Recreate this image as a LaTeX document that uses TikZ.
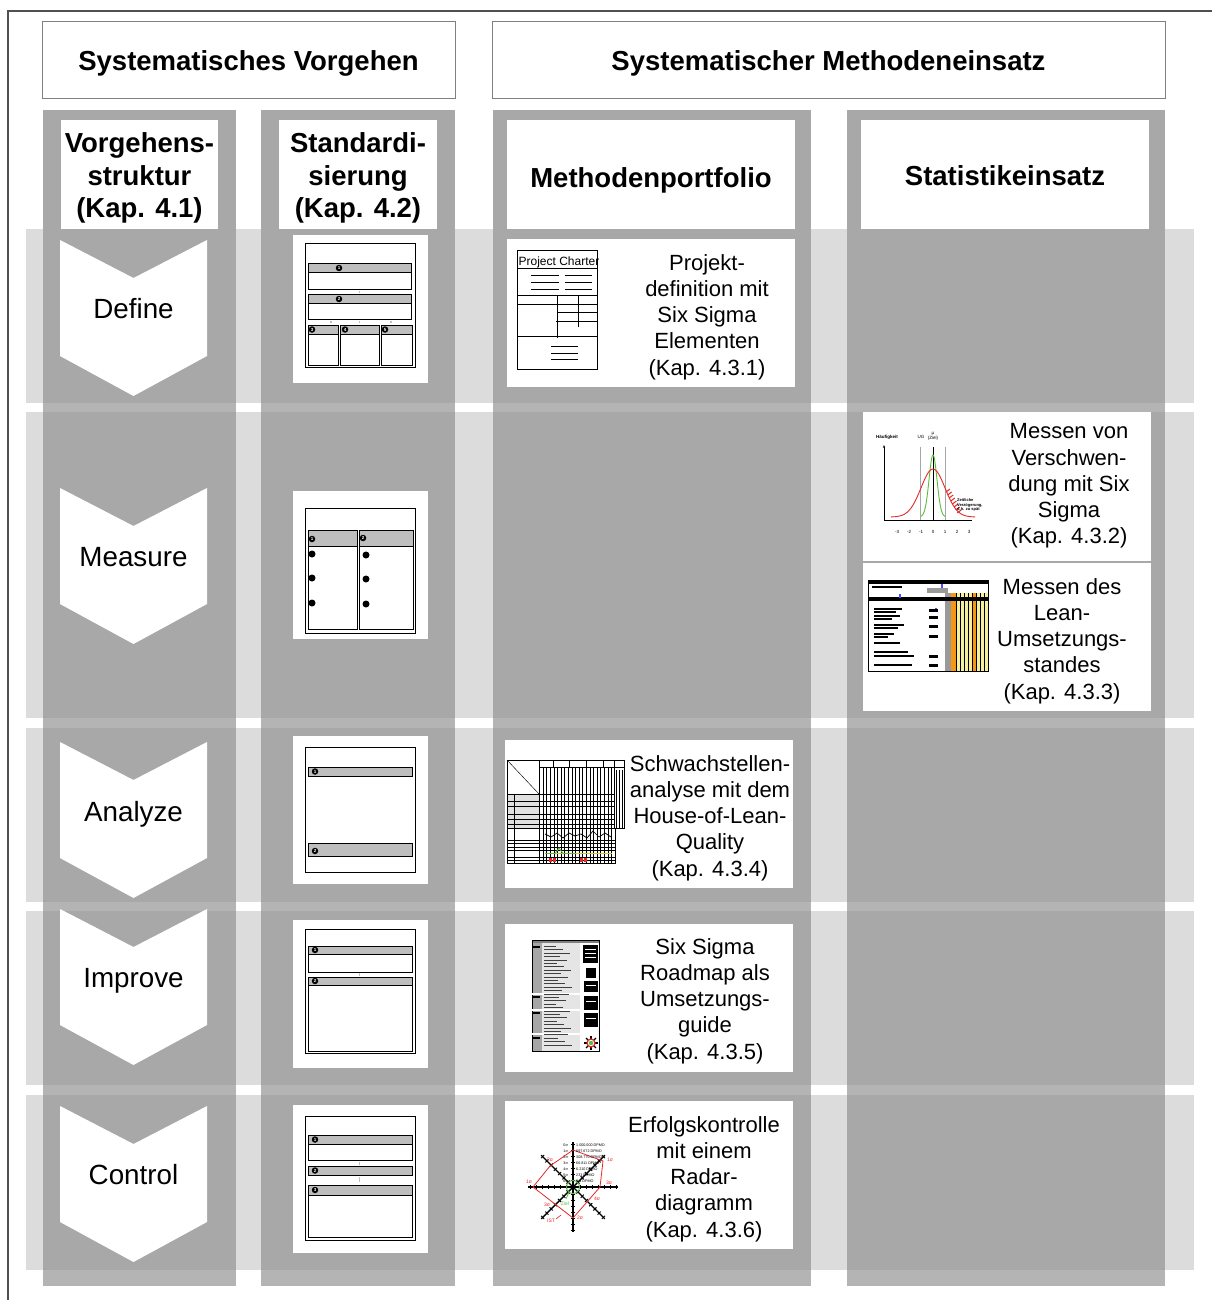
\documentclass[tikz,border=0pt]{standalone}
\usepackage{fontspec}
\setmainfont{Liberation Sans}
\usetikzlibrary{arrows.meta}

\definecolor{rowgray}{RGB}{220,220,220}
\definecolor{colgray}{RGB}{146,146,146}
\definecolor{framegray}{RGB}{80,80,80}
\definecolor{boxline}{RGB}{128,128,128}
\definecolor{bargray}{RGB}{190,190,190}
\definecolor{curvered}{RGB}{230,40,40}
\definecolor{curvegreen}{RGB}{90,190,60}
\definecolor{leanorange}{RGB}{245,150,20}
\definecolor{leanyellow}{RGB}{245,240,160}

\tikzset{
  headtext/.style={font=\fontsize{27.5}{32.5}\selectfont\bfseries, align=center, inner sep=0pt},
  phasetext/.style={font=\fontsize{27.8}{32}\selectfont, inner sep=0pt},
  bodytext/.style={font=\fontsize{22}{26.2}\selectfont, align=center, inner sep=0pt},
  column/.style={fill=colgray, fill opacity=0.69},
  sheet/.style={draw=black, line width=0.9, fill=white},
  bar/.style={draw=black, line width=0.8, fill=bargray},
  num/.style={circle, fill=black, inner sep=0pt, minimum size=6.5pt, text=white,
              font=\fontsize{4.5}{5}\selectfont\bfseries},
  link/.style={fill=black!25},
  tiny/.style={font=\fontsize{4.5}{5}\selectfont, inner sep=0pt},
  dpmo/.style={font=\fontsize{3.7}{4}\selectfont, inner sep=0pt},
}

\begin{document}
\begin{tikzpicture}[x=1pt,y=-1pt]
\useasboundingbox (0,0) rectangle (1212,1300);

% outer frame (top and left edge)
\draw[framegray, line width=1.2] (1212,11) -- (8,11) -- (8,1300);

% headline boxes
\draw[boxline, line width=1, fill=white] (42,22) rectangle (455,99);
\node[headtext] (hVorgehen) at (248.5,63.5) {Systematisches Vorgehen};
\draw[boxline, line width=1, fill=white] (492,22) rectangle (1165,99);
\node[headtext] (hMethoden) at (828.5,63.5) {Systematischer Methodeneinsatz};

% phase rows
\foreach \a/\b in {229/403, 412/718, 728/902, 911/1085, 1095/1270}
  \fill[rowgray] (26,\a) rectangle (1194,\b);

% columns (the heading part sits on the same light ground as the rows)
\foreach \a/\b in {43/236, 261/455, 493/811, 847/1165} {
  \fill[rowgray] (\a,110) rectangle (\b,229);
  \fill[column] (\a,110) rectangle (\b,1286);
}

% column headings
\fill[white] (61,120) rectangle (218,229);
\fill[white] (279,120) rectangle (437,229);
\fill[white] (507,120) rectangle (795,229);
\fill[white] (861,120) rectangle (1149,229);
\node[headtext] (cStruktur) at (139.5,178) {Vorgehens-\\struktur\\(Kap. 4.1)};
\node[headtext] (cStandard) at (358,178) {Standardi-\\sierung\\(Kap. 4.2)};
\node[headtext] (cPortfolio) at (651,180) {Methodenportfolio};
\node[headtext] (cStatistik) at (1005,176) {Statistikeinsatz};

% DMAIC chevrons
\foreach \t/\l/\n/\d in {240/Define/pDefine/69, 488/Measure/pMeasure/69, 742/Analyze/pAnalyze/72,
                      909/Improve/pImprove/72, 1106/Control/pControl/69} {
  \fill[white] (60,\t) -- (133.5,\t+38) -- (207,\t) -- (207,\t+116)
               -- (133.5,\t+156) -- (60,\t+116) -- cycle;
  \node[phasetext] (\n) at (133.5,\t+\d) {\l};
}

% standardisation sheets (white cards)
\foreach \t in {235,491,736,920,1105}
  \fill[white] (293,\t) rectangle (428,\t+148);

% --- Define template
\draw[sheet] (305,243) rectangle (415,367);
\draw[bar] (308,263) rectangle (411,272); \draw[sheet] (308,272) rectangle (411,289);
\draw[bar] (308,294) rectangle (411,303); \draw[sheet] (308,303) rectangle (411,319);
\draw[sheet] (308,325) rectangle (338,365); \draw[bar] (308,325) rectangle (338,334);
\draw[sheet] (340,325) rectangle (379,365); \draw[bar] (340,325) rectangle (379,334);
\draw[sheet] (381,325) rectangle (412,365); \draw[bar] (381,325) rectangle (412,334);
\node[num] (dn1) at (339,268) {1};
\node[num] (dn2) at (339,299) {2};
\node[num] (dn3) at (312,329.5) {3};
\node[num] (dn4) at (345,329.5) {4};
\node[num] (dn5) at (385,329.5) {5};
\fill[link] (358.5,290.5) rectangle (360,293);
\fill[link] (330,320.5) rectangle (331.5,323);
\fill[link] (358.5,320.5) rectangle (360,323);
\fill[link] (390,320.5) rectangle (391.5,323);

% --- Measure template
\draw[sheet] (305,508) rectangle (415,633);
\draw[sheet] (308,530) rectangle (357,629); \draw[bar] (308,530) rectangle (357,546);
\draw[sheet] (359,530) rectangle (413,629); \draw[bar] (359,530) rectangle (413,546);
\node[num] (mn1) at (312,539) {1};
\node[num] (mn2) at (363,538) {2};
\foreach \y/\k in {554/1, 578/2, 603/3} {
  \node[num, minimum size=7pt] (mnA\k) at (312,\y) {};
  \node[num, minimum size=7pt] (mnB\k) at (366,\y+1) {};
}

% --- Analyze template
\draw[sheet] (305,747) rectangle (415,872);
\draw[bar] (308,767) rectangle (412,776);
\draw[bar] (308,843) rectangle (412,856);
\node[num] (an1) at (315,771.5) {1};
\node[num] (an2) at (315,851) {2};

% --- Improve template
\draw[sheet] (305,929) rectangle (415,1053);
\draw[sheet] (308,946) rectangle (412,972); \draw[bar] (308,946) rectangle (412,954);
\draw[sheet] (308,977) rectangle (412,1051); \draw[bar] (308,977) rectangle (412,985);
\node[num] (in1) at (315,950) {1};
\node[num] (in2) at (315,981) {2};
\fill[link] (358.5,973) rectangle (360,976);

% --- Control template
\draw[sheet] (305,1116) rectangle (415,1240);
\draw[sheet] (308,1135) rectangle (412,1160); \draw[bar] (308,1135) rectangle (412,1144);
\draw[bar] (308,1166) rectangle (412,1175);
\draw[sheet] (308,1185) rectangle (412,1237); \draw[bar] (308,1185) rectangle (412,1195);
\node[num] (cn1) at (315,1139.5) {1};
\node[num] (cn2) at (315,1170.5) {2};
\node[num] (cn3) at (315,1190) {3};
\fill[link] (358.5,1161.5) rectangle (360,1164.5);
\fill[link] (358.5,1177) rectangle (360,1182);

% method cards
\fill[white] (507,239) rectangle (795,387);
\fill[white] (505,740) rectangle (793,888);
\fill[white] (505,924) rectangle (793,1072);
\fill[white] (505,1101) rectangle (793,1249);
\fill[white] (863,412) rectangle (1151,561);
\fill[white] (863,563) rectangle (1151,711);

\node[bodytext] (tCharter) at (707,317) {Projekt-\\definition mit\\Six Sigma\\Elementen\\(Kap. 4.3.1)};
\node[bodytext] (tHolq) at (710,818) {Schwachstellen-\\analyse mit dem\\House-of-Lean-\\Quality\\(Kap. 4.3.4)};
\node[bodytext] (tRoadmap) at (705,1001) {Six Sigma\\Roadmap als\\Umsetzungs-\\guide\\(Kap. 4.3.5)};
\node[bodytext] (tRadar) at (704,1179) {Erfolgskontrolle\\mit einem\\Radar-\\diagramm\\(Kap. 4.3.6)};
\node[bodytext] (tSixSigma) at (1069,486) {Messen von\\Verschwen-\\dung mit Six\\Sigma\\(Kap. 4.3.2)};
\node[bodytext] (tLean) at (1062,641) {Messen des\\Lean-\\Umsetzungs-\\standes\\(Kap. 4.3.3)};

% --- project charter sketch
\begin{scope}[line width=0.8]
\draw (517,250) rectangle (597,369);
\node[font=\fontsize{12}{12}\selectfont, inner sep=0pt, anchor=base] (charterTitle) at (559,265) {Project Charter};
\draw (517,268) -- (597,268);
\foreach \y in {275,282,289} { \draw (531,\y) -- (559,\y); \draw (565,\y) -- (592,\y); }
\draw (517,295) -- (597,295);
\draw (517,304) -- (597,304);
\draw (557,295) -- (557,338);
\draw (578,295) -- (578,327);
\draw (557,312) -- (597,312);
\draw (556,321) -- (597,321);
\draw (517,336) -- (597,336);
\foreach \y in {346,353,359} \draw (551,\y) -- (578,\y);
\end{scope}

% --- normal distribution sketch
\begin{scope}
\draw[-{Stealth[length=3pt]}, line width=0.6] (884,520) -- (884,445);
\draw[line width=0.6] (884,520) -- (972,520);
\draw[black!35, line width=0.7] (920,447) -- (920,520);
\draw[black!35, line width=0.7] (945,447) -- (945,520);
\draw[line width=0.8] (933,447) -- (933,520);
\draw[curvegreen, line width=0.9, domain=-1:1, samples=40]
  plot ({933+12*\x}, {517-62*exp(-\x*\x/(2*0.11))});
\draw[curvered, line width=0.9, domain=-3.5:3.5, samples=70]
  plot ({933+12*\x}, {517-48*exp(-\x*\x/2)});
\foreach \x in {0,...,7}
  \draw[curvered, line width=1] ({946+1.6*\x},{492+3*\x}) -- ++(4,-3);
\foreach \v [count=\i from 0] in {-3,-2,-1,0,1,2,3}
  \node[tiny] (ax\i) at ({897+12*\i},532) {\v};
\node[tiny, font=\fontsize{4.5}{5}\selectfont\bfseries] (hf) at (887,437) {Häufigkeit};
\node[tiny] (ug) at (921,437) {UG};
\node[tiny, align=center] (mu) at (933,436) {µ\\(Ziel)};
\node[tiny, align=left, anchor=west, font=\fontsize{4}{4.8}\selectfont\bfseries] (late) at (957,505)
  {Zeitliche\\Verzögerung,\\d.h. zu spät};
\end{scope}

% --- lean implementation table
\begin{scope}
\fill[leanyellow] (956,593) rectangle (988,671);
\fill[leanorange] (951,593) rectangle (956,671);
\fill[leanorange] (972,593) rectangle (976,671);
\fill[black!40] (945,593) rectangle (951,671);
\foreach \x in {956,960,964,968,972,976,980,984}
  \draw[line width=0.4] (\x,593) -- (\x,671);
\fill[black!40] (927,588) rectangle (948,593);
\draw[line width=1] (868,580) rectangle (988,671);
\fill (868,580) rectangle (988,583.5);
\fill (872,586) rectangle (902,588);
\fill (868,597) rectangle (988,601);
\fill[blue!70] (941,584) rectangle (943,588);
\fill[blue!70] (899,594) rectangle (901,598);
\fill[blue!70] (935,608) rectangle (937,612);
\foreach \y/\w in {608/28, 611/22, 615/26, 618/18, 624/30, 627/24, 633/20, 636/14, 642/26, 651/34, 655/40, 664/38} {
  \fill (874,\y) rectangle (874+\w,\y+1.8);
}
\foreach \y in {609,616,625,635,655,664}
  \fill (929,\y) rectangle (938,\y+2.5);
\end{scope}

% --- house of lean quality sketch
\begin{scope}[line width=0.45]
\fill[black!12] (507,794) rectangle (539,828);
\draw[line width=0.8] (507,760) rectangle (614,828);
\draw[line width=0.8] (507,828) rectangle (615,863);
\draw (507,760) -- (539,794);
\draw (539,760) -- (539,863);
\draw (507,794) -- (614,794);
\draw (514,794) -- (514,863);
\draw (539,767) -- (624,767);
\foreach \x in {553,569,586,603} \draw[line width=0.8] (\x,760) -- (\x,767);
\foreach \i in {0,...,19} \draw ({543+3.6*\i},767) -- ({543+3.6*\i},863);
\foreach \y in {801,806,814,819,824} \draw (507,\y) -- (614,\y);
\draw[line width=0.8] (614,760) rectangle (624,828);
\foreach \x in {616.5,619.5,622.5} \draw[line width=1.2] (\x,770) -- (\x,828);
\foreach \y in {840,843,847,850,857,860} \draw (507,\y) -- (615,\y);
\draw[line width=0.7] (545,834) -- (551,837) -- (557,833) -- (563,838) -- (569,833)
  -- (575,836) -- (581,834) -- (587,838) -- (593,831) -- (599,837) -- (605,833) -- (611,837);
\draw[yellow!80!black, line width=0.9] (545,853.5) -- (612,853.5);
\draw[curvegreen, line width=0.9] (545,853.5) -- (555,853.5) -- (559,848) -- (563,853.5) -- (575,853.5);
\foreach \x in {548.5,552.5,580,584}
  \fill[curvered] (\x,858) rectangle (\x+3,861.5);
\end{scope}

% --- six sigma roadmap sketch
\begin{scope}
\fill[black!10] (532,943) rectangle (580,1051);
\fill[black!35] (532,943) rectangle (542,1051);
\fill[black!50] (532,940) rectangle (599,943);
\draw[line width=0.4] (532,940) rectangle (599,1051);
\foreach \y in {994,1010,1034} \draw[white, line width=1.2] (532,\y) -- (599,\y);
\foreach \y in {946,996,1012,1037} \fill (533,\y) rectangle (540,\y+1.5);
\foreach \i in {0,...,29}
  \fill[black!75] (544,{946+3.4*\i}) rectangle ({556+mod(\i*7,17)},{946+3.4*\i+1});
\fill (583,945) rectangle (598,963);
\foreach \y in {949,953,957} \draw[white, line width=0.6] (585,\y) -- (596,\y);
\fill (586,968) rectangle (596,978);
\fill (584,981) rectangle (598,992);
\fill (584,996) rectangle (598,1010);
\fill (584,1013) rectangle (598,1027);
\foreach \y in {985,1001,1018} \draw[white, line width=0.6] (586,\y) -- (596,\y);
\begin{scope}[shift={(591,1043)}]
\foreach \a in {0,45,...,315} \draw[line width=1.1] (\a:4) -- (\a:7);
\draw[curvered, line width=1.3] (0,0) circle (4);
\fill[curvegreen] (0,0) circle (2.2);
\end{scope}
\end{scope}

% --- radar chart sketch
\begin{scope}[shift={(573,1187)}]
\foreach \a in {0,45,...,315} {
  \begin{scope}[rotate=\a]
    \draw[line width=1.4] (0,0) -- (45,0);
    \foreach \r in {7,13,...,43} \draw[line width=0.9] (\r,-2.2) -- (\r,2.2);
  \end{scope}
}
\draw[curvered, line width=0.8] (0,-37) -- (30,-26) -- (27,0) -- (0,31) -- (-40,0) -- (-23,-21) -- cycle;
\draw[curvegreen, line width=0.9] (0,0) circle (6.5);
\draw[curvegreen, line width=0.7] (-4,5) -- (-7,12);
\draw[curvered, line width=0.6] (-17,32) -- (-12,28);
\end{scope}
\foreach \s/\d [count=\i from 0] in {0/1.000.000, 1/697.672, 2/308.770, 3/66.811, 4/6.210, 5/233, 6/{3,4}} {
  \node[dpmo, anchor=east] (rs\i) at (568,{1145+6.1*\i}) {\s σ};
  \node[dpmo, anchor=west] (rd\i) at (576,{1145+6.1*\i}) {\d\ DPMO};
}
\begin{scope}[font=\fontsize{5}{5}\selectfont, text=curvered]
\node[inner sep=0pt] (r1) at (550,1160) {2σ};
\node[inner sep=0pt] (r2) at (529,1182) {1σ};
\node[inner sep=0pt] (r3) at (547,1205) {3σ};
\node[inner sep=0pt] (r4) at (551,1221) {IST};
\node[inner sep=0pt] (r5) at (580,1218) {2σ};
\node[inner sep=0pt] (r6) at (597,1199) {4σ};
\node[inner sep=0pt] (r7) at (609,1183) {3σ};
\node[inner sep=0pt] (r8) at (610,1160) {1σ};
\end{scope}
\node[inner sep=0pt, font=\fontsize{5}{5}\selectfont, text=curvegreen] (ziel) at (565,1204) {Ziel};

\end{tikzpicture}
\end{document}
